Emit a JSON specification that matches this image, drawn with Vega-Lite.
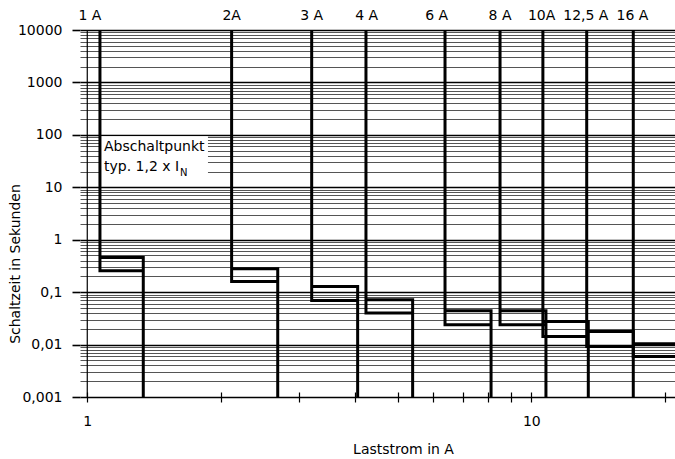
{
  "$schema": "https://vega.github.io/schema/vega-lite/v6.json",
  "width": 595,
  "height": 367,
  "autosize": {"type": "none"},
  "padding": {"left": 80, "top": 30, "right": 0, "bottom": 62},
  "config": {
    "view": {"stroke": null},
    "font": "DejaVu Sans",
    "axis": {"labelFont": "DejaVu Sans", "titleFont": "DejaVu Sans", "labelFontSize": 14, "titleFontSize": 14, "titleFontWeight": "normal", "labelColor": "black", "titleColor": "black"}
  },
  "datasets": {
    "box": [{"x": 1.068, "x2": 1.87, "y": 11.8, "y2": 94}],
    "one": [{"x": 1}],
    "curves": [
      {"s": "1lo", "o": 1, "x": 1.068, "y": 10000}, {"s": "1lo", "o": 2, "x": 1.068, "y": 0.2553}, {"s": "1lo", "o": 3, "x": 1.337, "y": 0.2553},
      {"s": "1up", "o": 1, "x": 1.068, "y": 0.4577}, {"s": "1up", "o": 2, "x": 1.337, "y": 0.4577}, {"s": "1up", "o": 3, "x": 1.337, "y": 0.001},
      {"s": "2lo", "o": 1, "x": 2.114, "y": 10000}, {"s": "2lo", "o": 2, "x": 2.114, "y": 0.1597}, {"s": "2lo", "o": 3, "x": 2.685, "y": 0.1597},
      {"s": "2up", "o": 1, "x": 2.114, "y": 0.2788}, {"s": "2up", "o": 2, "x": 2.685, "y": 0.2788}, {"s": "2up", "o": 3, "x": 2.685, "y": 0.001},
      {"s": "3lo", "o": 1, "x": 3.202, "y": 10000}, {"s": "3lo", "o": 2, "x": 3.202, "y": 0.0694}, {"s": "3lo", "o": 3, "x": 4.064, "y": 0.0694},
      {"s": "3up", "o": 1, "x": 3.202, "y": 0.1282}, {"s": "3up", "o": 2, "x": 4.064, "y": 0.1282}, {"s": "3up", "o": 3, "x": 4.064, "y": 0.001},
      {"s": "4lo", "o": 1, "x": 4.243, "y": 10000}, {"s": "4lo", "o": 2, "x": 4.243, "y": 0.0399}, {"s": "4lo", "o": 3, "x": 5.405, "y": 0.0399},
      {"s": "4up", "o": 1, "x": 4.243, "y": 0.0715}, {"s": "4up", "o": 2, "x": 5.405, "y": 0.0715}, {"s": "4up", "o": 3, "x": 5.405, "y": 0.001},
      {"s": "6lo", "o": 1, "x": 6.393, "y": 10000}, {"s": "6lo", "o": 2, "x": 6.393, "y": 0.0239}, {"s": "6lo", "o": 3, "x": 8.117, "y": 0.0239},
      {"s": "6up", "o": 1, "x": 6.393, "y": 0.0441}, {"s": "6up", "o": 2, "x": 8.117, "y": 0.0441}, {"s": "6up", "o": 3, "x": 8.117, "y": 0.001},
      {"s": "8lo", "o": 1, "x": 8.504, "y": 10000}, {"s": "8lo", "o": 2, "x": 8.504, "y": 0.0239}, {"s": "8lo", "o": 3, "x": 10.79, "y": 0.0239},
      {"s": "8up", "o": 1, "x": 8.504, "y": 0.0441}, {"s": "8up", "o": 2, "x": 10.79, "y": 0.0441}, {"s": "8up", "o": 3, "x": 10.79, "y": 0.001},
      {"s": "10lo", "o": 1, "x": 10.62, "y": 10000}, {"s": "10lo", "o": 2, "x": 10.62, "y": 0.01428}, {"s": "10lo", "o": 3, "x": 13.44, "y": 0.01428},
      {"s": "10up", "o": 1, "x": 10.62, "y": 0.0276}, {"s": "10up", "o": 2, "x": 13.44, "y": 0.0276}, {"s": "10up", "o": 3, "x": 13.44, "y": 0.001},
      {"s": "12lo", "o": 1, "x": 13.33, "y": 10000}, {"s": "12lo", "o": 2, "x": 13.33, "y": 0.00921}, {"s": "12lo", "o": 3, "x": 16.97, "y": 0.00921},
      {"s": "12up", "o": 1, "x": 13.33, "y": 0.0178}, {"s": "12up", "o": 2, "x": 16.97, "y": 0.0178}, {"s": "12up", "o": 3, "x": 16.97, "y": 0.001},
      {"s": "16lo", "o": 1, "x": 16.97, "y": 10000}, {"s": "16lo", "o": 2, "x": 16.97, "y": 0.00594}, {"s": "16lo", "o": 3, "x": 21.07, "y": 0.00594},
      {"s": "16up", "o": 1, "x": 16.97, "y": 0.01037}, {"s": "16up", "o": 2, "x": 21.07, "y": 0.01037}
    ],
    "labels": [
      {"t": "1 A", "x": 1.014, "y": 18900},
      {"t": "2A", "x": 2.114, "y": 18900},
      {"t": "3 A", "x": 3.202, "y": 18900},
      {"t": "4 A", "x": 4.259, "y": 18900},
      {"t": "6 A", "x": 6.122, "y": 18900},
      {"t": "8 A", "x": 8.504, "y": 18900},
      {"t": "10A", "x": 10.55, "y": 18900},
      {"t": "12,5 A", "x": 13.27, "y": 18900},
      {"t": "16 A", "x": 16.9, "y": 18900}
    ],
    "annot": [
      {"t": "Abschaltpunkt", "x": 1.0905, "y": 59.7},
      {"t": "typ. 1,2 x I", "x": 1.0905, "y": 24.8}
    ],
    "sub": [{"t": "N", "x": 1.617, "y": 18.6}]
  },
  "resolve": {"axis": {"y": "independent"}},
  "encoding": {
    "x": {"field": "x", "type": "quantitative", "scale": {"type": "log", "domain": [0.963, 21.07], "nice": false},
      "axis": {"values": [1, 2, 3, 4, 5, 6, 7, 8, 9, 10, 20], "tickSize": 10, "offset": -5, "tickColor": "black", "tickWidth": 1.2, "domain": false, "grid": false, "format": "d", "labelExpr": "datum.value == 1 || datum.value == 10 ? datum.label : ''", "labelPadding": 12, "labelOverlap": false, "labelFlush": false, "title": "Laststrom in A", "titleX": 323, "titleY": 57.7, "titleAlign": "center", "titleBaseline": "middle"}}
  },
  "layer": [
    {
      "data": {"name": "box"},
      "mark": {"type": "rect", "fill": "white", "stroke": null},
      "encoding": {
        "x2": {"field": "x2"},
        "y": {"field": "y", "type": "quantitative", "scale": {"type": "log", "domain": [0.001, 10000], "nice": false},
          "axis": {"orient": "left", "values": [0.002, 0.003, 0.004, 0.005, 0.006, 0.007, 0.008, 0.009, 0.02, 0.03, 0.04, 0.05, 0.06, 0.07, 0.08, 0.09, 0.2, 0.3, 0.4, 0.5, 0.6, 0.7, 0.8, 0.9, 2, 3, 4, 5, 6, 7, 8, 9, 20, 30, 40, 50, 60, 70, 80, 90, 200, 300, 400, 500, 600, 700, 800, 900, 2000, 3000, 4000, 5000, 6000, 7000, 8000, 9000], "grid": true, "gridColor": "#555555", "gridWidth": 1, "ticks": false, "labels": false, "domain": false, "title": null}},
        "y2": {"field": "y2"}
      }
    },
    {
      "data": {"name": "one"},
      "mark": {"type": "rule", "color": "black", "strokeWidth": 1.2},
      "encoding": {}
    },
    {
      "data": {"name": "curves"},
      "mark": {"type": "line", "color": "black", "strokeWidth": 3, "strokeJoin": "miter", "strokeCap": "butt"},
      "encoding": {
        "y": {"field": "y", "type": "quantitative", "scale": {"type": "log", "domain": [0.001, 10000], "nice": false},
          "axis": {"orient": "left", "values": [0.001, 0.01, 0.1, 1, 10, 100, 1000, 10000], "grid": true, "gridColor": "black", "gridWidth": 1.6, "tickSize": 8, "tickWidth": 1.6, "tickColor": "black", "domain": false, "labelPadding": 10, "format": "~g", "labelExpr": "replace(datum.label, '.', ',')", "title": "Schaltzeit in Sekunden", "titleX": -65, "titleY": 233.5, "titleAngle": 270, "titleAlign": "center", "titleBaseline": "middle"}},
        "detail": {"field": "s", "type": "nominal"},
        "order": {"field": "o", "type": "quantitative"}
      }
    },
    {
      "data": {"name": "labels"},
      "mark": {"type": "text", "fontSize": 14, "align": "center", "baseline": "middle", "color": "black", "font": "DejaVu Sans"},
      "encoding": {
        "y": {"field": "y", "type": "quantitative", "scale": {"type": "log", "domain": [0.001, 10000], "nice": false}, "axis": null},
        "text": {"field": "t"}
      }
    },
    {
      "data": {"name": "annot"},
      "mark": {"type": "text", "fontSize": 14, "align": "left", "baseline": "middle", "color": "black", "font": "DejaVu Sans"},
      "encoding": {
        "y": {"field": "y", "type": "quantitative", "scale": {"type": "log", "domain": [0.001, 10000], "nice": false}, "axis": null},
        "text": {"field": "t"}
      }
    },
    {
      "data": {"name": "sub"},
      "mark": {"type": "text", "fontSize": 10, "align": "left", "baseline": "middle", "color": "black", "font": "DejaVu Sans"},
      "encoding": {
        "y": {"field": "y", "type": "quantitative", "scale": {"type": "log", "domain": [0.001, 10000], "nice": false}, "axis": null},
        "text": {"field": "t"}
      }
    }
  ]
}
